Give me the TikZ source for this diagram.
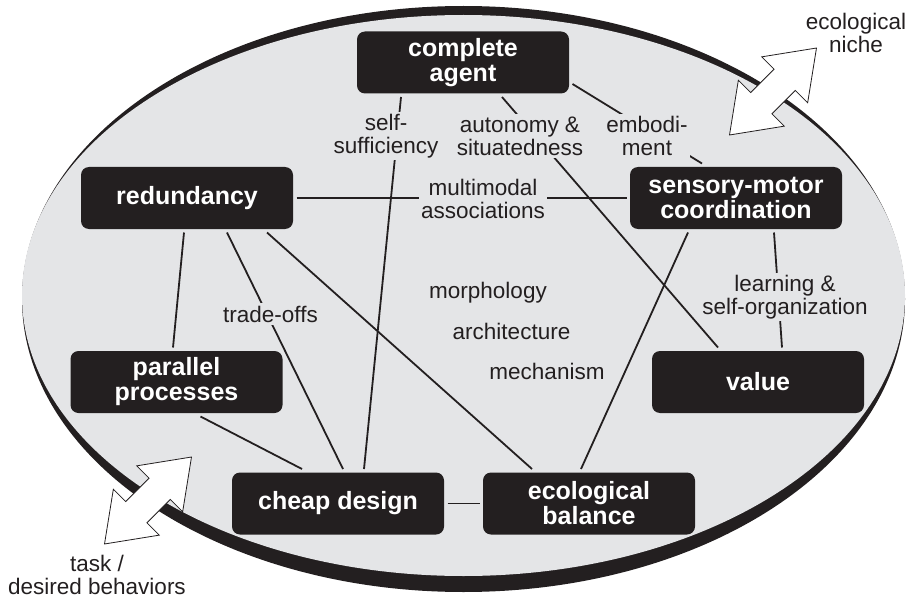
\documentclass[tikz,border=0pt]{standalone}
\usepackage{fontspec}
\setmainfont{Liberation Sans}
\usepackage{tikz}
\usetikzlibrary{positioning}
\definecolor{boxblack}{HTML}{231F20}
\definecolor{niche}{HTML}{E4E5E7}
\newcommand{\boxtextfont}{\fontsize{25}{25}\selectfont\bfseries}
\newcommand{\lbltextfont}{\fontsize{22.5}{23}\selectfont}
\tikzset{
  principle/.style={
    fill=boxblack,
    rounded corners=8pt,
    align=center,
    minimum width=212pt,
    minimum height=62pt,
    text=white,
    font=\boxtextfont,
    outer sep=3.5pt
  },
  lbl/.style={
    align=center,
    font=\lbltextfont,
    text=boxblack,
    fill=niche,
    inner sep=2.5pt
  },
  outside/.style={
    align=center,
    font=\lbltextfont,
    text=boxblack,
    anchor=base
  },
  link/.style={draw=boxblack, line width=1.8pt},
  interface/.pic={
    \draw[fill=white, draw=boxblack, line width=0.8pt]
      (61.5,0) -- (16.5,32.5) -- (16.5,15) -- (-16.5,15) -- (-16.5,32.5)
      -- (-61.5,0) -- (-16.5,-32.5) -- (-16.5,-15) -- (16.5,-15)
      -- (16.5,-32.5) -- cycle;
  }
}

\begin{document}
\begin{tikzpicture}[x=1pt, y=-1pt]
  \useasboundingbox (0,0) rectangle (913,599);
  % the field with its dark rim
  \fill[boxblack] (463.5,299) ellipse [x radius=441.5pt, y radius=293pt];
  \fill[niche] (463.5,295.5) ellipse [x radius=441.5pt, y radius=280.5pt];
  \pic[rotate=45] at (773,91.5) {interface};
  \pic[rotate=45] at (148,500.5) {interface};

  \node[principle] (agent) at (463,62.5) {complete\\agent};
  \node[principle] (redundancy) at (187,198) {redundancy};
  \node[principle] (sensory) at (736,198) {sensory-motor\\coordination};
  \node[principle] (parallel) at (176.5,382) {parallel\\processes};
  \node[principle] (value) at (758,382) {value};
  \node[principle] (cheap) at (338,503.5) {cheap design};
  \node[principle, right=32pt of cheap] (balance) {ecological\\balance};

  \draw[link] ([xshift=-62pt]agent.south) -- ([xshift=26pt]cheap.north);
  \draw[link] ([xshift=39pt]agent.south) -- ([xshift=-40pt]value.north);
  \draw[link] ([yshift=-21.5pt]agent.east) -- ([xshift=-34pt]sensory.north);
  \draw[link] (redundancy.east) -- (sensory.west);
  \draw[link] ([xshift=38pt]sensory.south) -- ([xshift=24pt]value.north);
  \draw[link] ([xshift=-48pt]sensory.south) -- ([xshift=-8pt]balance.north);
  \draw[link] ([xshift=80pt]redundancy.south) -- ([xshift=-57pt]balance.north);
  \draw[link] ([xshift=40pt]redundancy.south) -- ([xshift=5pt]cheap.north);
  \draw[link] ([xshift=-3pt]redundancy.south) -- ([xshift=-3.5pt]parallel.north);
  \draw[link] ([xshift=24pt]parallel.south) -- ([xshift=-36pt]cheap.north);
  \draw[link] (cheap.east) -- (balance.west);

  \node[lbl] (selfsuff) at (386,136) {self-\\sufficiency};
  \node[lbl] (autonomy) at (520,136) {autonomy \&\\situatedness};
  \node[lbl] (embodiment) at (647,136) {embodi-\\ment};
  \node[lbl] (multimodal) at (483,199) {multimodal\\associations};
  \node[lbl] (learning) at (785,297) {learning \&\\self-organization};
  \node[lbl] (tradeoffs) at (270.5,314) {trade-offs};
  \node[lbl] (morphology) at (488,293) {morphology};
  \node[lbl] (architecture) at (511.5,331) {architecture};
  \node[lbl] (mechanism) at (547,371) {mechanism};

  \node[outside] (nichelbl) at (856,53) {ecological\\niche};
  \node[outside] (tasklbl) at (97,594) {task /\\desired behaviors};
\end{tikzpicture}
\end{document}
